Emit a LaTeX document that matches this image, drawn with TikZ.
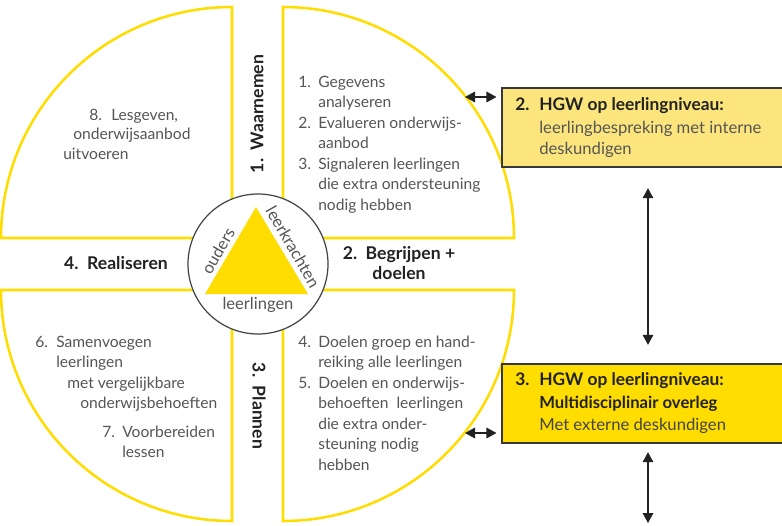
\documentclass[tikz,border=0pt]{standalone}
\usepackage{fontspec}
\setmainfont{Lato}
\usetikzlibrary{arrows.meta}
\definecolor{yel}{HTML}{FFDD00}
\definecolor{lyel}{HTML}{FCE57C}
\definecolor{txt}{HTML}{555555}
\definecolor{dark}{HTML}{222222}
\begin{document}
\begin{tikzpicture}[x=0.75pt,y=-0.75pt,
 quad/.style={draw=yel,line width=1.9pt,line join=miter},
 lst/.style={anchor=base west,inner sep=0pt,text=txt,font=\fontsize{11.7}{13}\selectfont},
 head/.style={inner sep=0pt,text=dark,font=\fontsize{13.2}{15}\selectfont\bfseries},
 tri/.style={inner sep=0pt,text=txt,font=\fontsize{12.4}{13}\selectfont},
 boxtxt/.style={anchor=base west,inner sep=0pt,font=\fontsize{12.5}{14}\selectfont},
 boxhead/.style={anchor=base west,inner sep=0pt,text=dark,font=\fontsize{13}{14}\selectfont\bfseries},
 dbl/.style={{Triangle[length=7.5pt,width=8pt]}-{Triangle[length=7.5pt,width=8pt]},line width=0.9pt,draw=dark},
 hgwbox/.style={draw=dark!90,line width=0.8pt,minimum width=216pt,minimum height=59.25pt,inner sep=0pt}]
\clip (0,0) rectangle (782,525);
\fill[white] (0,0) rectangle (782,525);
\def\R{173.25pt}
% quadrants
\draw[quad] (232,238) -- (232,7) arc[start angle=90,end angle=180,radius=\R] -- cycle;
\draw[quad] (283,238) -- (283,7) arc[start angle=90,end angle=0,radius=\R] -- cycle;
\draw[quad] (232,290) -- (232,521) arc[start angle=270,end angle=180,radius=\R] -- cycle;
\draw[quad] (283,290) -- (283,521) arc[start angle=-90,end angle=0,radius=\R] -- cycle;
% hub
\node[circle,draw=dark!85,fill=white,line width=0.9pt,minimum size=105pt,inner sep=0pt] (hub) at (258,264) {};
\fill[yel] (256,207) -- (308,294) -- (205,294) -- cycle;
\node[tri,rotate=60] (ouders) at (218,251) {ouders};
\node[tri,rotate=-60] (leerkr) at (293,247) {leerkrachten};
\node[tri] (leerl) at (258,305) {leerlingen};
% phase labels
\node[head,rotate=90] (waar) at (257,114) {1.\ \ Waarnemen};
\node[head,align=center] (begr) at (399,263) {2.\ \ Begrijpen +\\doelen};
\node[head,rotate=-90] (plan) at (259,406) {3.\ \ Plannen};
\node[head] (real) at (116,263) {4.\ \ Realiseren};
% top-left
\node[lst] (n8) at (89,120) {8.};
\node[lst] (t8a) at (111,120) {Lesgeven,};
\node[lst] (t8b) at (73,139) {onderwijsaanbod};
\node[lst] (t8c) at (63,159) {uitvoeren};
% top-right
\node[lst] (n1) at (298,87) {1.};
\node[lst] (n2) at (298,128) {2.};
\node[lst] (n3) at (298,169) {3.};
\foreach \t/\y [count=\i] in {Gegevens/87,analyseren/107.5,Evalueren onderwijs-/128,aanbod/148.5,Signaleren leerlingen/169,die extra ondersteuning/189.5,nodig hebben/210}
  \node[lst] (tr\i) at (318,\y) {\t};
% bottom-right
\node[lst] (n4) at (298,347) {4.};
\node[lst] (n5) at (298,388) {5.};
\foreach \t/\y [count=\i] in {Doelen groep en hand-/347,reiking alle leerlingen/367.5,Doelen en onderwijs-/388,behoeften\ \ leerlingen/408.5,die extra onder-/429,steuning nodig/449.5,hebben/470}
  \node[lst] (br\i) at (318,\y) {\t};
% bottom-left
\node[lst] (n6) at (35,347) {6.};
\node[lst] (bl1) at (56,347) {Samenvoegen};
\node[lst] (bl2) at (56,367) {leerlingen};
\node[lst] (bl3) at (67,388) {met vergelijkbare};
\node[lst] (bl4) at (80,408) {onderwijsbehoeften};
\node[lst] (n7) at (102,437) {7.};
\node[lst] (bl5) at (122,437) {Voorbereiden};
\node[lst] (bl6) at (122,457) {lessen};
% boxes
\node[hgwbox,fill=lyel] (box2) at (646,127.5) {};
\node[hgwbox,fill=yel] (box3) at (646,403.5) {};
\node[boxhead] (b2n) at (515,110) {2.};
\node[boxhead] (b2h) at (539,110) {HGW op leerlingniveau:};
\node[boxtxt,text=txt] (b2a) at (539,133) {leerlingbespreking met interne};
\node[boxtxt,text=txt] (b2b) at (539,154) {deskundigen};
\node[boxhead] (b3n) at (515,385) {3.};
\node[boxhead] (b3h) at (539,385) {HGW op leerlingniveau:};
\node[boxtxt,text=dark,font=\fontsize{12.5}{14}\selectfont\bfseries] (b3a) at (539,408) {Multidisciplinair overleg};
\node[boxtxt,text=txt!80!black] (b3b) at (539,430) {Met externe deskundigen};
% connectors
\coordinate (a2) at (465,97);
\coordinate (a3) at (465,433);
\coordinate (vx) at (648,0);
\coordinate (vend) at (648,523);
\draw[dbl,shorten >=3.75pt] (a2) -- (a2 -| box2.west);
\draw[dbl,shorten >=3.75pt] (a3) -- (a3 -| box3.west);
\draw[dbl,shorten <=15.5pt,shorten >=14pt] (box2.south -| vx) -- (box3.north -| vx);
\draw[dbl,shorten <=6.5pt] (box3.south -| vx) -- (vend);
\end{tikzpicture}
\end{document}
